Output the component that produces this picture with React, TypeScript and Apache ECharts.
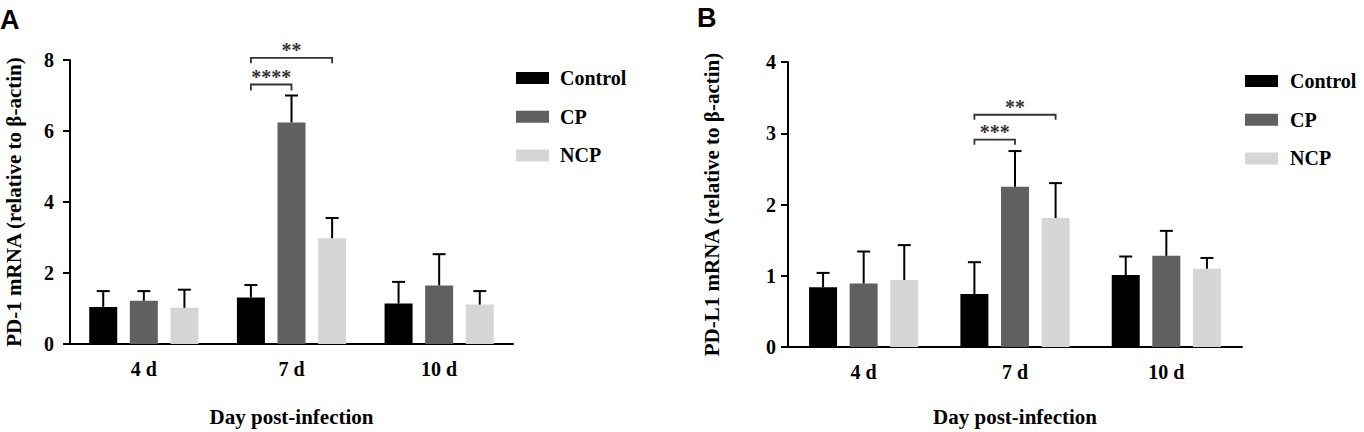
import React, { useEffect, useRef } from "react";
import * as echarts from "echarts";

const categories = ["4 d", "7 d", "10 d"];
const seriesNames = ["Control", "CP", "NCP"];
const seriesColors = ["#000000", "#606060", "#d6d6d6"];

// Panel A: PD-1 (means and upper error ends)
const pd1Control = [1.04, 1.31, 1.14];
const pd1CP = [1.22, 6.24, 1.65];
const pd1NCP = [1.02, 2.98, 1.11];
const pd1ControlErr = [1.49, 1.66, 1.75];
const pd1CPErr = [1.49, 7.0, 2.53];
const pd1NCPErr = [1.53, 3.55, 1.49];

// Panel B: PD-L1
const pdl1Control = [0.84, 0.745, 1.01];
const pdl1CP = [0.89, 2.25, 1.28];
const pdl1NCP = [0.94, 1.81, 1.1];
const pdl1ControlErr = [1.04, 1.19, 1.27];
const pdl1CPErr = [1.34, 2.75, 1.63];
const pdl1NCPErr = [1.43, 2.3, 1.25];

// significance brackets: category, from series, to series, bar height, leg end, label
const pd1Brackets = [
  { cat: 1, from: 0, to: 1, y: 7.31, leg: 7.14, text: "****" },
  { cat: 1, from: 0, to: 2, y: 8.06, leg: 7.91, text: "**" },
];
const pdl1Brackets = [
  { cat: 1, from: 0, to: 1, y: 2.91, leg: 2.84, text: "***" },
  { cat: 1, from: 0, to: 2, y: 3.26, leg: 3.19, text: "**" },
];

const SERIF = "'Liberation Serif', 'Times New Roman', serif";
const BAR_W = 28;
const BAR_GAP = 0.45;
const OFFSET = BAR_W * (1 + BAR_GAP);

function buildPanel(
  gi: number,
  means: number[][],
  errs: number[][],
  brackets: { cat: number; from: number; to: number; y: number; leg: number; text: string }[]
) {
  const series: any[] = [];
  means.forEach((m, s) => {
    series.push({
      type: "bar",
      name: seriesNames[s],
      xAxisIndex: gi,
      yAxisIndex: gi,
      data: m,
      barWidth: BAR_W,
      barGap: BAR_GAP * 100 + "%",
      itemStyle: { color: seriesColors[s] },
      z: 2,
    });
  });
  const errData: number[][] = [];
  means.forEach((m, s) => m.forEach((v, c) => errData.push([c, v, errs[s][c], s])));
  series.push({
    type: "custom",
    xAxisIndex: gi,
    yAxisIndex: gi,
    data: errData,
    z: 3,
    renderItem: (params: any, api: any) => {
      const c = api.value(0);
      const base = api.coord([c, api.value(1)]);
      const top = api.coord([c, api.value(2)]);
      const x = base[0] + (api.value(3) - 1) * OFFSET;
      const st = { stroke: "#000", lineWidth: 2 };
      return {
        type: "group",
        children: [
          { type: "line", shape: { x1: x, y1: base[1], x2: x, y2: top[1] }, style: st },
          { type: "line", shape: { x1: x - 6.5, y1: top[1], x2: x + 6.5, y2: top[1] }, style: st },
        ],
      };
    },
  });
  series.push({
    type: "custom",
    xAxisIndex: gi,
    yAxisIndex: gi,
    data: brackets.map((b) => [b.cat, b.y, b.leg]),
    z: 4,
    renderItem: (params: any, api: any) => {
      const b = brackets[params.dataIndex];
      const p = api.coord([b.cat, b.y]);
      const l = api.coord([b.cat, b.leg]);
      const x1 = p[0] + (b.from - 1) * OFFSET;
      const x2 = p[0] + (b.to - 1) * OFFSET;
      return {
        type: "group",
        children: [
          {
            type: "polyline",
            shape: { points: [[x1, l[1]], [x1, p[1]], [x2, p[1]], [x2, l[1]]] },
            style: { stroke: "#333", lineWidth: 1.8, fill: null },
          },
          {
            type: "text",
            style: {
              text: b.text,
              x: (x1 + x2) / 2,
              y: p[1] - 7.5,
              align: "center",
              verticalAlign: "middle",
              font: "bold 20px " + SERIF,
              fill: "#333",
            },
          },
        ],
      };
    },
  });
  return series;
}

function axisX(gi: number, nameGap: number) {
  return {
    type: "category",
    gridIndex: gi,
    data: categories,
    axisLine: { lineStyle: { color: "#000", width: 2 } },
    axisTick: { alignWithLabel: true, length: 8, lineStyle: { color: "#000", width: 2 } },
    axisLabel: { color: "#000", fontFamily: SERIF, fontWeight: "bold", fontSize: 20, margin: 15 },
    name: "Day post-infection",
    nameLocation: "middle",
    nameGap,
    nameTextStyle: { color: "#000", fontFamily: SERIF, fontWeight: "bold", fontSize: 21 },
  };
}

function axisY(gi: number, max: number, interval: number, name: string, nameGap: number, margin: number) {
  return {
    type: "value",
    gridIndex: gi,
    min: 0,
    max,
    interval,
    axisLine: { show: true, lineStyle: { color: "#000", width: 2 } },
    axisTick: { show: true, length: 7, lineStyle: { color: "#000", width: 2 } },
    splitLine: { show: false },
    axisLabel: { color: "#000", fontFamily: SERIF, fontWeight: "bold", fontSize: 20, margin },
    name,
    nameLocation: "middle",
    nameGap,
    nameTextStyle: { color: "#000", fontFamily: SERIF, fontWeight: "bold", fontSize: 21 },
  };
}

function legendAt(left: number, top: number, textPad: number) {
  return {
    left,
    top,
    orient: "vertical",
    itemWidth: 33,
    itemHeight: 12,
    itemGap: 18.7,
    icon: "rect",
    selectedMode: false,
    data: seriesNames,
    textStyle: {
      color: "#000",
      fontFamily: SERIF,
      fontWeight: "bold",
      fontSize: 20,
      padding: [0, 0, 0, textPad],
    },
  };
}

export default function App() {
  const ref = useRef<HTMLDivElement>(null);
  useEffect(() => {
    if (!ref.current) return;
    const chart = echarts.init(ref.current, undefined, { renderer: "svg" });
    const option: any = {
      animation: false,
      backgroundColor: "#fff",
      grid: [
        { left: 70, top: 60, width: 443, height: 291 },
        { left: 788, top: 62, width: 454, height: 290 },
      ],
      xAxis: [axisX(0, 62), axisX(1, 59)],
      yAxis: [
        axisY(0, 8, 2, "PD-1 mRNA (relative to β-actin)", 46, 16),
        axisY(1, 4, 1, "PD-L1 mRNA (relative to β-actin)", 66, 12),
      ],
      legend: [legendAt(511, 63, 6), legendAt(1240, 66, 7)],
      graphic: [
        {
          type: "text",
          left: 0,
          top: 6,
          style: { text: "A", font: "bold 27px 'Liberation Sans', Arial, sans-serif", fill: "#000" },
        },
        {
          type: "text",
          left: 697,
          top: 4,
          style: { text: "B", font: "bold 27px 'Liberation Sans', Arial, sans-serif", fill: "#000" },
        },
      ],
      series: [
        ...buildPanel(0, [pd1Control, pd1CP, pd1NCP], [pd1ControlErr, pd1CPErr, pd1NCPErr], pd1Brackets),
        ...buildPanel(1, [pdl1Control, pdl1CP, pdl1NCP], [pdl1ControlErr, pdl1CPErr, pdl1NCPErr], pdl1Brackets),
      ],
    };
    chart.setOption(option);
    return () => chart.dispose();
  }, []);
  return (
    <div
      ref={ref}
      style={{ position: "absolute", left: 0, top: 0, width: 1364, height: 432 }}
    />
  );
}
